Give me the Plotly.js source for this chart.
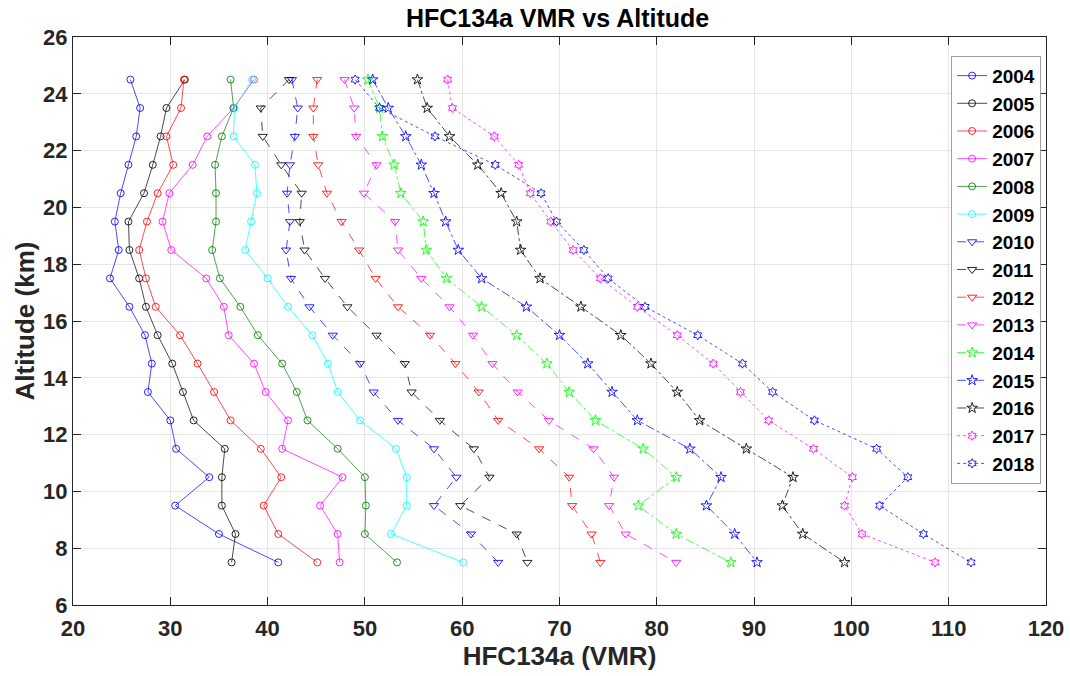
<!DOCTYPE html>
<html>
<head>
<meta charset="utf-8">
<script src="https://cdn.plot.ly/plotly-3.0.1.min.js"></script>
<style>html,body{margin:0;padding:0;background:#fff;}#chart{width:1070px;height:676px;}</style>
</head>
<body>
<div id="chart"></div>
<script>
// Altitude levels (km)
const altitude = [24.5, 23.5, 22.5, 21.5, 20.5, 19.5, 18.5, 17.5, 16.5, 15.5, 14.5, 13.5, 12.5, 11.5, 10.5, 9.5, 8.5, 7.5];

// HFC134a VMR per year (values at the altitude levels above)
const y2004 = [25.9, 26.9, 26.5, 25.7, 24.9, 24.3, 24.7, 23.8, 25.8, 27.4, 28.1, 27.7, 30.0, 30.6, 34.0, 30.5, 35.0, 41.1];
const y2005 = [31.5, 29.6, 29.0, 28.2, 27.3, 25.7, 25.8, 26.8, 27.5, 28.7, 30.2, 31.3, 32.4, 35.6, 35.3, 35.3, 36.7, 36.3];
const y2006 = [31.4, 31.1, 29.6, 30.3, 28.7, 27.6, 26.8, 27.5, 28.5, 31.0, 32.8, 34.5, 36.2, 39.3, 41.4, 39.6, 41.1, 45.1];
const y2007 = [38.6, 36.5, 33.8, 32.3, 29.9, 29.2, 30.1, 33.7, 35.5, 36.0, 38.6, 39.8, 42.1, 41.5, 47.7, 45.4, 47.2, 47.4];
const y2008 = [36.2, 36.5, 35.3, 34.6, 34.7, 34.7, 34.3, 35.1, 37.2, 39.0, 41.5, 43.0, 44.1, 47.2, 50.0, 50.1, 50.0, 53.3];
const y2009 = [38.4, 36.6, 36.5, 38.7, 38.9, 38.3, 37.7, 40.0, 42.1, 44.6, 46.2, 47.2, 49.5, 53.2, 54.3, 54.3, 52.7, 60.1];
const y2010 = [42.5, 43.1, 42.8, 42.3, 42.0, 42.3, 41.9, 42.4, 44.3, 46.7, 49.5, 50.9, 53.4, 57.1, 59.4, 57.1, 60.9, 63.7];
const y2011 = [42.2, 39.3, 39.5, 41.4, 43.5, 43.3, 43.8, 45.9, 48.2, 51.2, 54.1, 54.8, 57.7, 61.2, 62.8, 59.8, 65.6, 66.7];
const y2012 = [45.1, 44.7, 44.7, 45.2, 46.1, 47.6, 49.4, 51.1, 53.4, 56.7, 59.3, 61.7, 63.7, 67.9, 71.0, 71.3, 73.3, 74.2];
const y2013 = [47.9, 48.9, 49.1, 51.2, 49.9, 53.1, 53.4, 55.8, 58.7, 61.1, 63.1, 65.7, 68.9, 73.5, 75.6, 75.1, 76.8, 82.0];
const y2014 = [50.3, 51.5, 51.8, 53.0, 53.7, 56.0, 56.3, 58.4, 62.0, 65.6, 68.7, 71.0, 73.7, 78.6, 82.0, 78.1, 82.0, 87.6];
const y2015 = [50.8, 52.4, 54.2, 55.8, 57.1, 58.3, 59.6, 62.0, 66.6, 70.0, 72.9, 75.4, 78.0, 83.4, 86.6, 85.1, 88.0, 90.3];
const y2016 = [55.4, 56.4, 58.7, 61.6, 64.0, 65.6, 66.0, 68.0, 72.2, 76.3, 79.4, 82.1, 84.4, 89.2, 94.0, 92.9, 95.0, 99.3];
const y2017 = [58.5, 59.0, 63.3, 65.8, 67.0, 69.1, 71.4, 74.2, 78.0, 82.1, 85.8, 88.6, 91.5, 96.1, 100.1, 99.3, 101.1, 108.6];
const y2018 = [49.0, 51.5, 57.2, 63.4, 68.1, 69.7, 72.5, 75.0, 78.8, 84.2, 88.8, 91.9, 96.2, 102.6, 105.8, 102.9, 107.4, 112.3];

const years = ['2004','2005','2006','2007','2008','2009','2010','2011','2012','2013','2014','2015','2016','2017','2018'];
const series = [y2004,y2005,y2006,y2007,y2008,y2009,y2010,y2011,y2012,y2013,y2014,y2015,y2016,y2017,y2018];

const rgb = {
  b:[0,0,255], k:[0,0,0], r:[255,0,0], m:[255,0,255], dg:[0,128,0], c:[0,255,255], g:[0,255,0]
};
const styles = [
  ['b','solid','circle-open',7],
  ['k','solid','circle-open',7],
  ['r','solid','circle-open',7],
  ['m','solid','circle-open',7],
  ['dg','solid','circle-open',7],
  ['c','solid','circle-open',7],
  ['b','dash','triangle-down-open',8],
  ['k','dash','triangle-down-open',8],
  ['r','dash','triangle-down-open',8],
  ['m','dash','triangle-down-open',8],
  ['g','dashdot','star-open',8],
  ['b','dashdot','star-open',8],
  ['k','dashdot','star-open',8],
  ['m','dot','hexagram-open',7],
  ['b','dot','hexagram-open',7]
];
function col(c,a){const v=rgb[c];return 'rgba('+v[0]+','+v[1]+','+v[2]+','+a+')';}

const traces = years.map((yr,i)=>{
  const s = styles[i];
  return {
    x: series[i], y: altitude, name: yr, type:'scatter', mode:'lines+markers',
    line:{color: col(s[0],0.7), width:1, dash:s[1]},
    marker:{symbol:s[2], size:s[3], color: col(s[0],0.85), line:{color: col(s[0],0.85), width:1}}
  };
});

const fontFam = 'Liberation Sans, Arial, Helvetica, sans-serif';
const layout = {
  width:1070, height:676,
  margin:{l:73, r:24, t:37, b:71},
  paper_bgcolor:'#fff', plot_bgcolor:'#fff',
  showlegend:true,
  title:{text:'<b>HFC134a VMR vs Altitude</b>', x:0.498, xref:'paper', xanchor:'center', y:0.973, yanchor:'middle', font:{family:fontFam, size:25, color:'#000'}},
  xaxis:{
    range:[20,120], tickvals:[20,30,40,50,60,70,80,90,100,110,120],
    ticks:'inside', ticklen:8, tickcolor:'#262626', tickwidth:1,
    showline:true, linecolor:'#262626', linewidth:1, mirror:'ticks',
    showgrid:true, gridcolor:'#e6e6e6', zeroline:false,
    ticklabelstandoff:4,
    tickfont:{family:fontFam, size:22, color:'#262626', weight:'bold'},
    title:{text:'<b>HFC134a (VMR)</b>', font:{family:fontFam, size:26, color:'#262626'}, standoff:6}
  },
  yaxis:{
    range:[6,26], tickvals:[6,8,10,12,14,16,18,20,22,24,26],
    ticks:'inside', ticklen:8, tickcolor:'#262626', tickwidth:1,
    showline:true, linecolor:'#262626', linewidth:1, mirror:'ticks',
    showgrid:true, gridcolor:'#e6e6e6', zeroline:false,
    tickfont:{family:fontFam, size:22, color:'#262626', weight:'bold'},
    title:{text:'<b>Altitude (km)</b>', font:{family:fontFam, size:26, color:'#262626'}, standoff:1}
  },
  legend:{
    x:0.995, xanchor:'right', y:0.967, yanchor:'top',
    bgcolor:'#fff', bordercolor:'#a0a0a0', borderwidth:1,
    font:{family:fontFam, size:19, color:'#000', weight:'bold'},
    itemwidth:30, tracegroupgap:0
  }
};

Plotly.newPlot('chart', traces, layout, {displayModeBar:false, staticPlot:true});
</script>
</body>
</html>
